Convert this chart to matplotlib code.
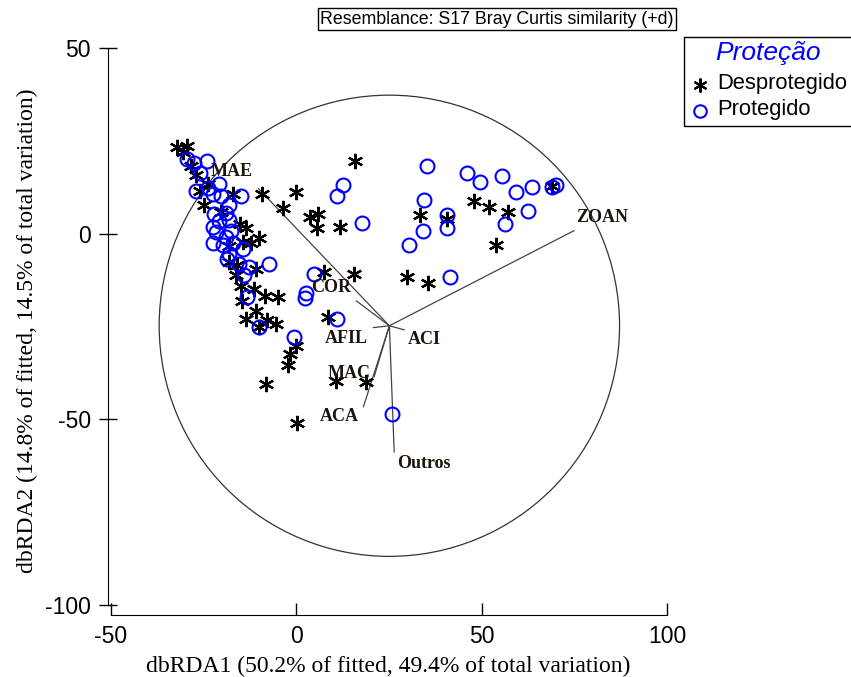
import matplotlib
matplotlib.use("Agg")
import matplotlib.pyplot as plt
from matplotlib.patches import Circle, Rectangle
from matplotlib.lines import Line2D

plt.rcParams["axes.unicode_minus"] = False

# dbRDA scores - unprotected sites
desp_x = [-32.3, -29.4, -30.7, -28.3, -27.2, -23.7, -26.1, -24.8, -17.0, -9.2,
          -20.2, -15.1, -13.5, -10.2, -14.3, -12.1, -18.3, -15.9, -11.0, -16.4,
          -14.8, -11.3, -8.4, -4.9, -14.6, -11.0, -13.5, -7.8, -5.4, -10.2,
          0.0, -1.6, -2.2, -8.1, 0.3, 10.8, 18.9, 8.6, 7.5, 15.6,
          29.9, 35.6, -3.5, 0.0, 3.8, 5.9, 5.7, 11.9, 15.9, 33.4,
          40.7, 48.0, 52.0, 57.1, 53.9, 69.0, -18.1]
desp_y = [23.4, 23.7, 22.1, 18.1, 15.9, 13.5, 11.6, 7.8, 10.8, 10.8,
          5.9, 2.7, 1.6, -1.1, -2.2, -2.4, -7.5, -8.4, -9.4, -11.0,
          -14.0, -14.8, -16.7, -17.0, -18.1, -20.8, -22.9, -23.2, -24.3, -25.1,
          -30.2, -32.3, -35.3, -40.4, -50.9, -39.6, -39.9, -22.4, -10.2, -10.8,
          -11.6, -13.2, 7.0, 11.3, 4.6, 5.4, 1.6, 1.9, 19.7, 4.9,
          4.0, 8.9, 7.3, 5.9, -3.0, 12.9, -3.2]

# dbRDA scores - protected sites
prot_x = [-29.4, -27.5, -24.0, -26.1, -27.0, -23.7, -20.8, -22.6, -20.2, -14.8,
          -18.1, -22.1, -19.1, -20.8, -18.1, -21.6, -17.5, -18.9, -22.4, -19.7,
          -17.0, -14.3, -18.1, -18.6, -15.6, -12.7, -14.0, -7.3, -13.2, -10.0,
          -0.5, 2.7, 2.4, 4.9, 11.1, 12.7, 11.1, 17.8, 35.3, 34.5,
          34.2, 30.5, 40.7, 40.7, 46.1, 49.6, 55.5, 59.3, 63.6, 69.0,
          62.5, 56.3, 41.5, 25.9, -22.4, 70.1]
prot_y = [20.2, 19.1, 19.7, 16.4, 11.6, 12.4, 13.5, 10.8, 10.2, 10.2,
          7.8, 5.4, 5.7, 3.5, 3.8, 0.5, 0.8, -0.8, -2.4, -3.0,
          -2.4, -4.0, -5.4, -6.7, -8.1, -8.9, -11.0, -8.1, -17.0, -25.1,
          -27.8, -15.9, -17.2, -10.8, -22.9, 13.2, 10.2, 3.0, 18.1, 9.2,
          0.8, -3.0, 5.1, 1.6, 16.4, 14.0, 15.4, 11.1, 12.7, 12.7,
          6.2, 2.7, -11.6, -48.5, 1.9, 13.2]

# predictor vectors (end points), all drawn from the circle centre
vec_names = ["MAE", "ZOAN", "COR", "AFIL", "ACI", "MAC", "ACA", "Outros"]
vec_x = [-10.2, 74.9, 16.2, 20.8, 29.1, 21.0, 18.1, 26.4]
vec_y = [12.1, 0.8, -18.1, -25.3, -25.9, -38.5, -46.6, -58.8]

centre = (25.1, -24.8)
radius = 62.1

# where each vector name is written
label_xy = [(-17.5, 16.7), (82.5, 4.3), (9.4, -14.6), (13.5, -28.3),
            (34.5, -28.6), (14.3, -37.7), (11.6, -49.3), (34.5, -62.0)]

W, H = 851, 677
fig = plt.figure(figsize=(W / 100, H / 100), dpi=100)
ax = fig.add_axes([108 / W, 1 - 615 / H, 560 / W, 568 / H])
ax.set_xlim(-50.81, 100.27)
ax.set_ylim(-102.69, 50.27)

ax.add_patch(Circle(centre, radius, fill=False, color="#333333", lw=0.9))
for vx, vy in zip(vec_x, vec_y):
    ax.plot([centre[0], vx], [centre[1], vy], color="#444444", lw=0.9)

for name, (lx, ly) in zip(vec_names, label_xy):
    ax.text(lx, ly, name, family="Liberation Serif", weight="bold",
            fontsize=13, color="#1c150c", ha="center", va="center")

ax.plot(desp_x, desp_y, ls="none", marker=(6, 2, 0), ms=11, mew=1.6,
        color="black")
ax.plot(prot_x, prot_y, ls="none", marker="o", ms=10, mew=1.5,
        mfc="none", mec="#0000ff")

for side in ["top", "right"]:
    ax.spines[side].set_visible(False)
ax.spines["left"].set_bounds(-100, 50)
ax.spines["bottom"].set_bounds(-50, 100)
ax.set_xticks([-50, 0, 50, 100])
ax.set_yticks([-100, -50, 0, 50])
ax.tick_params(axis="x", direction="in", length=9, width=1, pad=7,
               labelsize=16.5)
ax.tick_params(axis="y", direction="inout", length=13, width=1, pad=6,
               labelsize=16.5)
for lab in ax.get_xticklabels() + ax.get_yticklabels():
    lab.set_family("Liberation Sans")

ax.set_xlabel("dbRDA1 (50.2% of fitted, 49.4% of total variation)",
              family="Liberation Serif", fontsize=17, labelpad=6)
ax.set_ylabel("dbRDA2 (14.8% of fitted, 14.5% of total variation)",
              family="Liberation Serif", fontsize=17, labelpad=5)

# resemblance caption
fig.text(497 / W, 1 - 19 / H, "Resemblance: S17 Bray Curtis similarity (+d)",
         family="Liberation Sans", fontsize=12.8, ha="center", va="center",
         bbox=dict(boxstyle="square,pad=0.15", fc="white", ec="black", lw=1))

# legend box
fig.patches.append(Rectangle((684 / W, 1 - 126 / H), 200 / W, 89 / H,
                             transform=fig.transFigure, fill=False,
                             ec="black", lw=1))
fig.text(768 / W, 1 - 53 / H, "Proteção", family="Liberation Sans",
         style="italic", fontsize=19, color="#0000ff", ha="center", va="center")
fig.lines.append(Line2D([700 / W], [1 - 85 / H], transform=fig.transFigure,
                        marker=(6, 2, 0), ms=10, mew=1.5, color="black"))
fig.lines.append(Line2D([700 / W], [1 - 111 / H], transform=fig.transFigure,
                        marker="o", ms=9, mew=1.5, mfc="none", mec="#0000ff"))
fig.text(717 / W, 1 - 84 / H, "Desprotegido", family="Liberation Sans",
         fontsize=15.8, ha="left", va="center")
fig.text(717 / W, 1 - 110 / H, "Protegido", family="Liberation Sans",
         fontsize=15.8, ha="left", va="center")

fig.savefig("out.png", dpi=100)
